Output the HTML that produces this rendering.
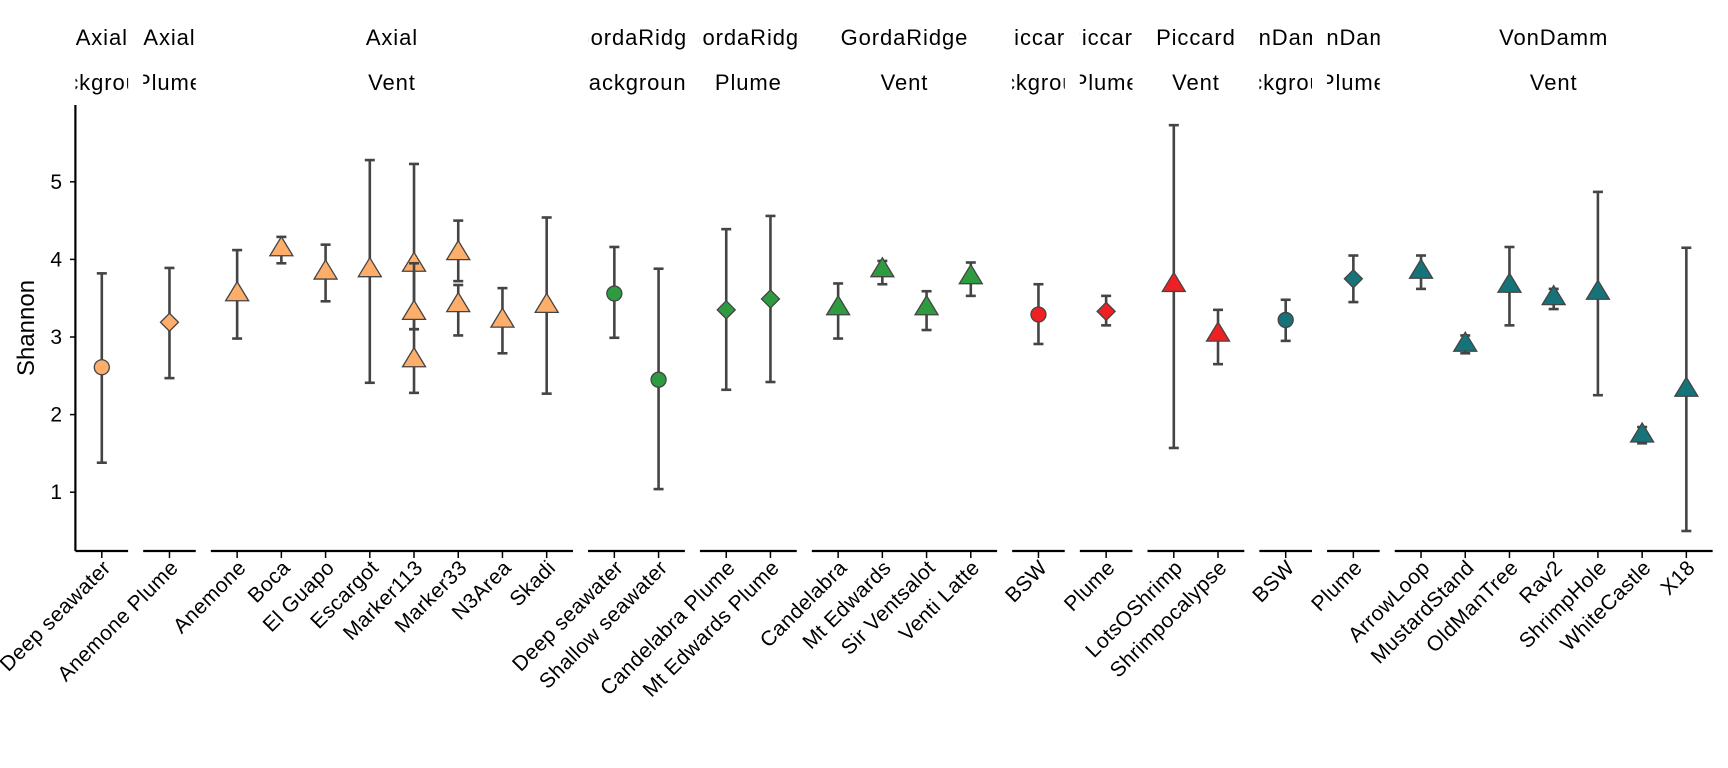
<!DOCTYPE html>
<html><head><meta charset="utf-8"><style>
html,body{margin:0;padding:0;background:#fff}
svg{display:block;font-family:"Liberation Sans",sans-serif}
</style></head><body>
<svg id="chart" width="1728" height="768" viewBox="0 0 1728 768" xmlns="http://www.w3.org/2000/svg">
<defs id="defs"></defs>
<g id="plot"></g>
</svg>
<script>
const groupSites=["Axial","Axial","Axial","GordaRidge","GordaRidge","GordaRidge","Piccard","Piccard","Piccard","VonDamm","VonDamm","VonDamm"];
const groupTypes=["Background","Plume","Vent","Background","Plume","Vent","Background","Plume","Vent","Background","Plume","Vent"];
const groupSizes=[1,1,8,2,2,4,1,1,2,1,1,7];
const categories=["Deep seawater","Anemone Plume","Anemone","Boca","El Guapo","Escargot","Marker113","Marker33","N3Area","Skadi","Deep seawater","Shallow seawater","Candelabra Plume","Mt Edwards Plume","Candelabra","Mt Edwards","Sir Ventsalot","Venti Latte","BSW","Plume","LotsOShrimp","Shrimpocalypse","BSW","Plume","ArrowLoop","MustardStand","OldManTree","Rav2","ShrimpHole","WhiteCastle","X18"];
// points: category index, value, low, high
const pointCat=[0,1,2,3,4,5,6,6,6,7,7,8,9,10,11,12,13,14,15,16,17,18,19,20,21,22,23,24,25,26,27,28,29,30];
const pointVal=[2.61,3.19,3.57,4.15,3.85,3.88,3.95,3.33,2.72,4.10,3.43,3.23,3.42,3.56,2.45,3.35,3.49,3.39,3.88,3.39,3.79,3.29,3.33,3.69,3.05,3.22,3.75,3.86,2.92,3.68,3.52,3.59,1.75,2.34];
const pointLow=[1.38,2.47,2.98,3.95,3.46,2.41,3.10,3.10,2.28,3.72,3.02,2.79,2.27,2.99,1.04,2.32,2.42,2.98,3.68,3.09,3.53,2.91,3.15,1.57,2.65,2.95,3.45,3.62,2.79,3.15,3.36,2.25,1.63,0.50];
const pointHigh=[3.82,3.89,4.12,4.29,4.19,5.28,5.23,3.95,3.10,4.50,3.67,3.63,4.54,4.16,3.88,4.39,4.56,3.69,3.98,3.59,3.96,3.68,3.53,5.73,3.35,3.48,4.05,4.05,3.02,4.16,3.62,4.87,1.84,4.15];
const yTicks=[1,2,3,4,5];

const siteColor={Axial:"#fdae6b",GordaRidge:"#2e9b41",Piccard:"#ee2024",VonDamm:"#157379"};
const NS="http://www.w3.org/2000/svg";
const plot=document.getElementById('plot');
const defs=document.getElementById('defs');
function el(tag,attrs,parent){const e=document.createElementNS(NS,tag);for(const k in attrs)e.setAttribute(k,attrs[k]);(parent||plot).appendChild(e);return e;}
const yScale=v=>492.2-(v-1)*77.6;
const X0=101.8,SLOT=44.22,GAP=23.45;
const catGroup=[];groupSizes.forEach((n,g)=>{for(let i=0;i<n;i++)catGroup.push(g);});
const xScale=i=>X0+i*SLOT+catGroup[i]*GAP;
const axisY=551;

const ya=el('line',{x1:75.4,y1:105,x2:75.4,y2:axisY,stroke:'#000','stroke-width':2.2});


yTicks.forEach(t=>{
  const tk=el('line',{x1:70,x2:75.4,y1:yScale(t),y2:yScale(t),stroke:'#000','stroke-width':1.5});
  
  
  const tl=el('text',{x:62,y:yScale(t)+7,'text-anchor':'end','font-size':21,fill:'#000'});
  tl.textContent=t;
  
  
});
const yt=el('text',{x:0,y:0,transform:'translate(34,328) rotate(-90)','text-anchor':'middle','font-size':24,fill:'#000'});
yt.textContent='Shannon';



let start=0;
groupSizes.forEach((n,g)=>{
  const x1=g===0?75.4:xScale(start)-26.3, x2=xScale(start+n-1)+26.3;
  const seg=el('line',{x1:x1,x2:x2,y1:axisY,y2:axisY,stroke:'#000','stroke-width':2.2});
  
  
  const cx=g===0?xScale(0):(x1+x2)/2;
  const hx1=g===0?xScale(0)-26.3:x1;
  const cp=el('clipPath',{id:'clip'+g},defs);
  el('rect',{x:hx1,y:0,width:x2-hx1,height:100},cp);
  const hg=el('g',{'clip-path':'url(#clip'+g+')'});
  
  
  const t1=el('text',{x:cx,y:45,'text-anchor':'middle','font-size':22,'letter-spacing':0.9,fill:'#000'},hg);
  t1.textContent=groupSites[g];
  
  
  const t2=el('text',{x:cx,y:90,'text-anchor':'middle','font-size':22,'letter-spacing':0.9,fill:'#000'},hg);
  t2.textContent=groupTypes[g];
  
  
  start+=n;
});

categories.forEach((c,i)=>{
  const x=xScale(i);
  const tk=el('line',{x1:x,x2:x,y1:axisY,y2:axisY+7,stroke:'#000','stroke-width':1.5});
  
  
  const tl=el('text',{x:0,y:0,transform:`translate(${x+10},${axisY+18}) rotate(-45)`,'text-anchor':'end','font-size':21,'letter-spacing':0.4,fill:'#000'});
  tl.textContent=c;
  
  
});

pointCat.forEach((ci,k)=>{
  const x=xScale(ci), g=catGroup[ci], type=groupTypes[g], col=siteColor[groupSites[g]];
  const yl=yScale(pointLow[k]), yh=yScale(pointHigh[k]), y=yScale(pointVal[k]);
  const eg=el('g',{stroke:'#444','stroke-width':2.6});
  
  
  el('line',{x1:x,x2:x,y1:yh,y2:yl},eg);
  el('line',{x1:x-5,x2:x+5,y1:yh,y2:yh},eg);
  el('line',{x1:x-5,x2:x+5,y1:yl,y2:yl},eg);
  let m;
  if(type==='Background') m=el('circle',{cx:x,cy:y,r:7.5});
  else if(type==='Plume') m=el('polygon',{points:`${x},${y-9} ${x+9},${y} ${x},${y+9} ${x-9},${y}`});
  else m=el('polygon',{points:`${x},${y-11} ${x+11.5},${y+8} ${x-11.5},${y+8}`});
  m.setAttribute('fill',col);m.setAttribute('stroke','#444');m.setAttribute('stroke-width',1.3);
  
  
});
</script>
</body></html>
